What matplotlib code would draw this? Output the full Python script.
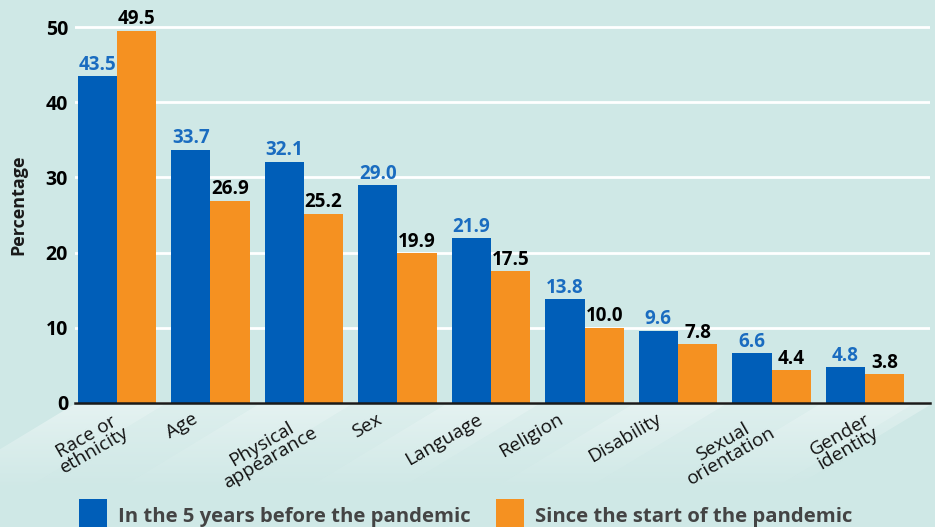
import numpy as np
import matplotlib.pyplot as plt
from matplotlib.patches import Polygon
from matplotlib.transforms import offset_copy

# data
categories = ['Race or\nethnicity', 'Age', 'Physical\nappearance', 'Sex', 'Language',
              'Religion', 'Disability', 'Sexual\norientation', 'Gender\nidentity']
before_pandemic = [43.5, 33.7, 32.1, 29.0, 21.9, 13.8, 9.6, 6.6, 4.8]
since_pandemic = [49.5, 26.9, 25.2, 19.9, 17.5, 10.0, 7.8, 4.4, 3.8]
legend_labels = ['In the 5 years before the pandemic', 'Since the start of the pandemic']
y_ticks = [0, 10, 20, 30, 40, 50]

bg = '#cfe8e6'
blue = '#005eb8'
blue_text = '#1a6cc0'
orange = '#f59121'

plt.rcParams['font.family'] = ['Open Sans', 'DejaVu Sans']

fig = plt.figure(figsize=(9.35, 5.27), dpi=100, facecolor=bg)

# background layer in pixel coords for the diagonal light stripes under the axis
bgax = fig.add_axes([0, 0, 1, 1], zorder=0)
bgax.set_xlim(0, 935)
bgax.set_ylim(527, 0)
bgax.axis('off')
grad = np.ones((100, 1, 4))
grad[:, 0, 3] = np.linspace(1, 0, 100)
top_y, bot_y, shear = 405, 490, 1.65
edges = [73] + [117 + 93.5 * (k + 0.5) for k in range(9)] + [930]
for k in range(len(edges) - 1):
    x0, x1 = edges[k], edges[k + 1]
    d = shear * (bot_y - top_y)
    poly = Polygon([(x0, top_y), (x1, top_y), (x1 - d, bot_y), (x0 - d, bot_y)],
                   closed=True, facecolor='none', edgecolor='none')
    bgax.add_patch(poly)
    g = grad.copy()
    g[:, 0, 3] *= 0.45 if k % 2 == 0 else 0.3
    im = bgax.imshow(g, extent=[0, 935, bot_y, top_y], origin='upper', aspect='auto',
                     interpolation='bilinear')
    im.set_clip_path(poly)

ax = fig.add_axes([75 / 935, 1 - 403 / 527, 855 / 935, (403 - 19.5) / 527], zorder=1)
ax.patch.set_visible(False)

x = np.arange(len(categories))
w = 0.42
b1 = ax.bar(x - w / 2, before_pandemic, w, color=blue, zorder=3)
b2 = ax.bar(x + w / 2, since_pandemic, w, color=orange, zorder=3)

for rect, v in zip(b1, before_pandemic):
    ax.annotate(f'{v:.1f}', (rect.get_x() + rect.get_width() / 2, v), xytext=(0, 1),
                textcoords='offset points', ha='center', va='bottom',
                fontsize=13.5, fontweight='bold', color=blue_text, zorder=4)
for rect, v in zip(b2, since_pandemic):
    ax.annotate(f'{v:.1f}', (rect.get_x() + rect.get_width() / 2, v), xytext=(0, 1),
                textcoords='offset points', ha='center', va='bottom',
                fontsize=13.5, fontweight='bold', color='black', zorder=4)

ax.set_xlim(-0.449, 8.695)
ax.set_ylim(0, 51)
ax.set_yticks(y_ticks)
ax.set_yticklabels([str(t) for t in y_ticks], fontsize=14, fontweight='bold')
ax.yaxis.grid(True, color='white', lw=2)
ax.set_axisbelow(True)
ax.tick_params(axis='both', length=0)
ax.tick_params(axis='y', pad=5)
for s in ['top', 'right', 'left']:
    ax.spines[s].set_visible(False)
ax.spines['bottom'].set_color('#1a1a1a')
ax.spines['bottom'].set_linewidth(1.8)
ax.spines['bottom'].set_zorder(5)

# category labels, nudged (in pixels) to where they sit in the original
ax.set_xticks(x)
ax.set_xticklabels([])
xoff = [-2, -19, -1, -21, -14, -27, -23, -10, 0]
base = ax.get_xaxis_transform()
for i, lab in enumerate(categories):
    tr = offset_copy(base, fig=fig, x=xoff[i] * 0.72, y=-5, units='points')
    ax.text(i, 0, lab, transform=tr, rotation=30, ha='right', va='top',
            rotation_mode='anchor', fontsize=13.8, multialignment='center',
            linespacing=0.85, color='#111111')

fig.text(18 / 935, 1 - 205 / 527, 'Percentage', rotation=90, ha='center', va='center',
         fontsize=13, fontweight='bold', color='#1a1a1a')

# legend drawn by hand at the bottom
for xs, col, lab, tx in [(79, blue, legend_labels[0], 118), (496, orange, legend_labels[1], 535)]:
    bgax.add_patch(plt.Rectangle((xs, 499), 28, 30, facecolor=col, edgecolor='none'))
    bgax.text(tx, 522, lab, ha='left', va='baseline', fontsize=14.6, fontweight='bold',
              color='#444444')

fig.savefig('out.png', dpi=100, facecolor=bg)
